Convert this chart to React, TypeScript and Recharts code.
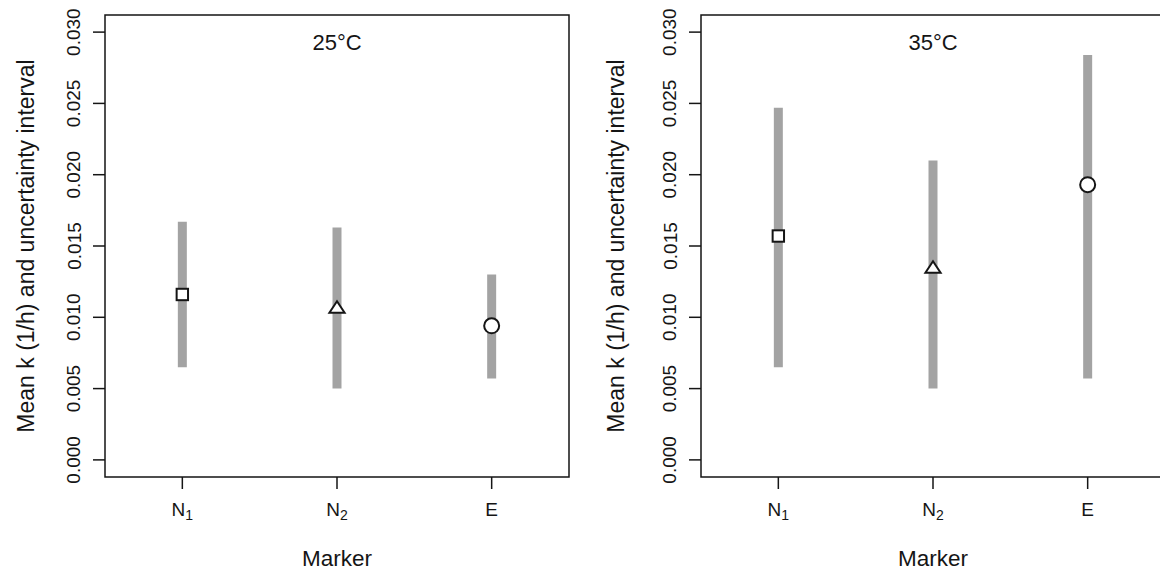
import React from 'react';
import { ComposedChart, Scatter, ErrorBar, XAxis, YAxis, ReferenceArea } from 'recharts';

const markers = ['N1', 'N2', 'E'];
const markerPos = [1, 2, 3];
const yTicks = [0, 0.005, 0.01, 0.015, 0.02, 0.025, 0.03];

// 25°C panel
const mean25 = [0.0116, 0.0106, 0.0094];
const lower25 = [0.0065, 0.005, 0.0057];
const upper25 = [0.0167, 0.0163, 0.013];

// 35°C panel
const mean35 = [0.0157, 0.0134, 0.0193];
const lower35 = [0.0065, 0.005, 0.0057];
const upper35 = [0.0247, 0.021, 0.0284];

const FONT = '"Liberation Sans", Arial, Helvetica, sans-serif';
const INK = '#151515';
const Y_DOMAIN = [-0.0012, 0.0312];

const shapeOf: Record<string, string> = { N1: 'square', N2: 'triangle', E: 'circle' };

const MarkerShape = (props: any) => {
    const { cx, cy, payload } = props;
    const kind = shapeOf[payload.marker];
    if (kind === 'square') {
        return <rect x={cx - 5.7} y={cy - 5.7} width={11.4} height={11.4} fill="#fff" stroke={INK} strokeWidth={2} />;
    }
    if (kind === 'triangle') {
        return (
            <polygon
                points={`${cx},${cy - 7.5} ${cx + 7.6},${cy + 4} ${cx - 7.6},${cy + 4}`}
                fill="#fff"
                stroke={INK}
                strokeWidth={2}
                strokeLinejoin="miter"
            />
        );
    }
    return <circle cx={cx} cy={cy} r={7.5} fill="#fff" stroke={INK} strokeWidth={2} />;
};

const XTick = (props: any) => {
    const { x, y, payload } = props;
    const name = markers[markerPos.indexOf(payload.value)];
    const sub = name.length > 1 ? name.slice(1) : '';
    return (
        <text x={x} y={y} textAnchor="middle" fontFamily={FONT} fontSize={19} fill={INK}>
            {name[0]}
            {sub && (
                <tspan fontSize={14} dy={4}>
                    {sub}
                </tspan>
            )}
        </text>
    );
};

const YTick = (props: any) => {
    const { x, y, payload } = props;
    return (
        <text
            x={x}
            y={y}
            transform={`rotate(-90 ${x} ${y})`}
            textAnchor="middle"
            fontFamily={FONT}
            fontSize={19}
            fill={INK}
        >
            {payload.value.toFixed(3)}
        </text>
    );
};

interface PanelProps {
    title: string;
    means: number[];
    lowers: number[];
    uppers: number[];
    width: number;
    yAxisWidth: number;
    marginRight: number;
    labelOffset: number;
}

const Panel = ({ title, means, lowers, uppers, width, yAxisWidth, marginRight, labelOffset }: PanelProps) => {
    const rows = markers.map((m, i) => ({
        marker: m,
        pos: markerPos[i],
        mean: means[i],
        err: [means[i] - lowers[i], uppers[i] - means[i]],
    }));

    return (
        <ComposedChart
            width={width}
            height={570}
            data={rows}
            margin={{ top: 15, right: marginRight, bottom: 0, left: 0 }}
        >
            <XAxis
                type="number"
                dataKey="pos"
                domain={[0.5, 3.5]}
                ticks={markerPos}
                interval={0}
                allowDataOverflow
                axisLine={false}
                tickSize={12}
                tickMargin={27}
                tickLine={{ stroke: INK, strokeWidth: 1.5 }}
                tick={<XTick />}
                height={93}
                label={{
                    content: (p: any) => {
                        const vb = p.viewBox;
                        return (
                            <text x={vb.x + vb.width / 2} y={vb.y + 89} textAnchor="middle" fontFamily={FONT} fontSize={22.5} fill={INK}>
                                Marker
                            </text>
                        );
                    },
                }}
            />
            <YAxis
                type="number"
                dataKey="mean"
                domain={Y_DOMAIN}
                ticks={yTicks}
                interval={0}
                allowDataOverflow
                axisLine={false}
                tickSize={12}
                tickMargin={12.5}
                tickLine={{ stroke: INK, strokeWidth: 1.5 }}
                tick={<YTick />}
                width={yAxisWidth}
                label={{
                    content: (p: any) => {
                        const vb = p.viewBox;
                        const lx = vb.x + vb.width - labelOffset;
                        const ly = vb.y + vb.height / 2;
                        return (
                            <text
                                x={lx}
                                y={ly}
                                transform={`rotate(-90 ${lx} ${ly})`}
                                textAnchor="middle"
                                fontFamily={FONT}
                                fontSize={23}
                                fill={INK}
                            >
                                Mean k (1/h) and uncertainty interval
                            </text>
                        );
                    },
                }}
            />
            <ReferenceArea
                x1={0.5}
                x2={3.5}
                y1={Y_DOMAIN[0]}
                y2={Y_DOMAIN[1]}
                fill="none"
                stroke={INK}
                strokeWidth={1.5}
                ifOverflow="visible"
                label={{ value: title, position: 'insideTop', offset: 19, fontSize: 22, fill: INK, fontFamily: FONT }}
            />
            <Scatter dataKey="mean" shape={<MarkerShape />} isAnimationActive={false}>
                <ErrorBar dataKey="err" direction="y" width={0} stroke="#a3a3a3" strokeWidth={9} isAnimationActive={false} />
            </Scatter>
        </ComposedChart>
    );
};

const App: React.FC = () => {
    return (
        <div style={{ position: 'absolute', left: 0, top: 0, width: 1160, height: 570, overflow: 'hidden', background: '#fff' }}>
            <div style={{ position: 'absolute', left: 0, top: 0 }}>
                <Panel
                    title="25°C"
                    means={mean25}
                    lowers={lower25}
                    uppers={upper25}
                    width={580}
                    yAxisWidth={105}
                    marginRight={11}
                    labelOffset={71}
                />
            </div>
            <div style={{ position: 'absolute', left: 580, top: 0 }}>
                <Panel
                    title="35°C"
                    means={mean35}
                    lowers={lower35}
                    uppers={upper35}
                    width={590}
                    yAxisWidth={121}
                    marginRight={5}
                    labelOffset={77}
                />
            </div>
        </div>
    );
};

export default App;
